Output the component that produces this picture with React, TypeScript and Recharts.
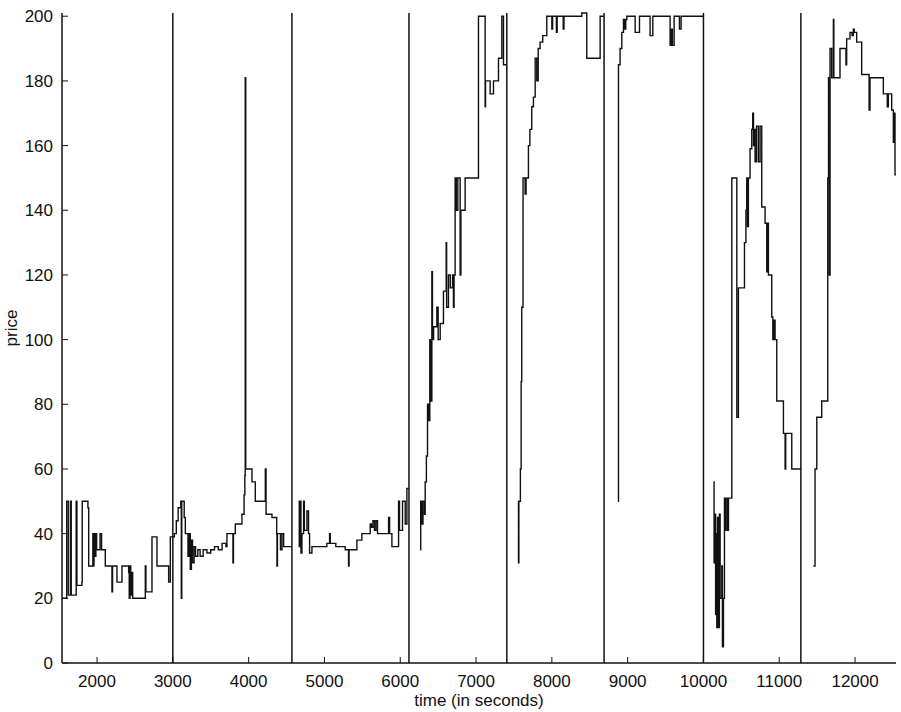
import React from 'react';
import { LineChart, Line, XAxis, YAxis, ReferenceLine } from 'recharts';

// price traces, one list per market period, [time in s, price]
const period1: [number, number][] = [
  [1538, 20], [1600, 50], [1622, 21], [1650, 50], [1660, 21], [1725, 50], [1735, 24],
  [1800, 25], [1805, 50], [1880, 48], [1890, 30], [1945, 40], [1950, 30], [1960, 40],
  [1970, 33], [1985, 40], [1995, 35], [2040, 40], [2060, 35], [2109, 30], [2190, 30],
  [2197, 22], [2205, 30], [2263, 25], [2329, 30], [2417, 28], [2425, 20], [2435, 30],
  [2445, 21], [2455, 28], [2470, 20], [2637, 30], [2645, 22], [2725, 39], [2791, 30],
  [2945, 25], [2967, 39], [3000, 39],
];

const period2: [number, number][] = [
  [3000, 39], [3020, 40], [3046, 44], [3070, 48], [3105, 50], [3112, 20], [3118, 50],
  [3150, 45], [3165, 40], [3200, 33], [3215, 40], [3230, 29], [3245, 38], [3260, 31],
  [3280, 36], [3300, 33], [3330, 35], [3360, 33], [3400, 35], [3450, 34], [3500, 35],
  [3550, 36], [3600, 35], [3650, 37], [3700, 36], [3714, 40], [3790, 40], [3793, 31],
  [3800, 40], [3824, 43], [3912, 46], [3940, 52], [3950, 58], [3955, 181], [3962, 60],
  [4044, 56], [4088, 50], [4215, 50], [4220, 60], [4230, 46], [4308, 45], [4370, 40],
  [4374, 30], [4380, 40], [4420, 35], [4440, 40], [4462, 36], [4571, 36],
];

const period3: [number, number][] = [
  [4659, 50], [4668, 36], [4680, 50], [4690, 34], [4703, 40], [4725, 50], [4735, 41],
  [4769, 47], [4790, 40], [4804, 34], [4835, 36], [4950, 36], [5032, 37], [5068, 40],
  [5077, 37], [5150, 36], [5274, 35], [5318, 30], [5325, 35], [5428, 38], [5494, 40],
  [5604, 43], [5620, 42], [5640, 44], [5660, 41], [5680, 44], [5700, 40], [5846, 45],
  [5860, 40], [5890, 36], [5978, 50], [5990, 41], [6030, 50], [6066, 43], [6088, 54],
  [6115, 54],
];

const period4: [number, number][] = [
  [6263, 35], [6270, 50], [6285, 43], [6300, 50], [6320, 46], [6329, 56], [6345, 64],
  [6360, 80], [6373, 75], [6390, 100], [6400, 81], [6417, 121], [6425, 100], [6440, 104],
  [6483, 110], [6500, 100], [6527, 105], [6570, 115], [6606, 130], [6612, 110], [6636, 120],
  [6660, 116], [6690, 120], [6702, 110], [6710, 120], [6724, 150], [6740, 140], [6760, 150],
  [6790, 120], [6800, 140], [6856, 150], [7032, 200], [7120, 172], [7125, 180], [7186, 176],
  [7230, 180], [7296, 187], [7340, 200], [7362, 185], [7406, 185],
];

const period5: [number, number][] = [
  [7555, 50], [7560, 31], [7565, 50], [7585, 60], [7595, 87], [7603, 110], [7620, 150],
  [7647, 145], [7660, 150], [7691, 160], [7710, 165], [7735, 172], [7757, 175], [7780, 187],
  [7801, 180], [7820, 190], [7845, 192], [7880, 194], [7933, 200], [8000, 196], [8010, 200],
  [8060, 195], [8070, 200], [8150, 196], [8160, 200], [8395, 201], [8461, 187], [8637, 200],
  [8689, 200],
];

const period6: [number, number][] = [
  [8870, 50], [8879, 185], [8900, 190], [8923, 195], [8945, 199], [8960, 196], [8975, 199],
  [8989, 200], [9099, 195], [9156, 200], [9296, 194], [9332, 200], [9560, 191], [9575, 196],
  [9590, 191], [9613, 200], [9683, 196], [9705, 200], [10000, 200],
];

const period7: [number, number][] = [
  [10132, 56], [10140, 31], [10154, 46], [10160, 15], [10170, 40], [10176, 11], [10185, 45],
  [10198, 11], [10210, 46], [10220, 20], [10242, 30], [10250, 5], [10264, 20], [10277, 51],
  [10290, 41], [10300, 51], [10320, 41], [10330, 51], [10374, 150], [10440, 76], [10461, 116],
  [10541, 130], [10560, 140], [10571, 150], [10580, 135], [10593, 150], [10615, 159],
  [10637, 165], [10650, 170], [10660, 160], [10670, 165], [10681, 155], [10700, 166],
  [10725, 155], [10747, 166], [10769, 141], [10813, 136], [10835, 121], [10845, 136],
  [10857, 120], [10901, 107], [10915, 100], [10930, 106], [10945, 100], [10967, 81],
  [11055, 71], [11077, 60], [11085, 71], [11165, 60], [11288, 60],
];

const period8: [number, number][] = [
  [11450, 30], [11472, 60], [11495, 76], [11560, 81], [11640, 150], [11650, 181], [11660, 120],
  [11670, 190], [11692, 181], [11714, 199], [11720, 181], [11801, 190], [11880, 185],
  [11889, 193], [11933, 195], [11960, 194], [11977, 196], [11990, 195], [12021, 192],
  [12087, 182], [12175, 182], [12185, 171], [12197, 181], [12373, 176], [12425, 172],
  [12439, 176], [12483, 171], [12505, 161], [12515, 170], [12527, 151], [12540, 151],
];

const periods = [period1, period2, period3, period4, period5, period6, period7, period8];
const periodStarts = [3000, 4571, 6115, 7406, 8689, 10000, 11285];

const xTicks = [2000, 3000, 4000, 5000, 6000, 7000, 8000, 9000, 10000, 11000, 12000];
const yTicks = [0, 20, 40, 60, 80, 100, 120, 140, 160, 180, 200];

// join periods, with a null row between them so the trace breaks
const data: { t: number; p: number | null }[] = [];
periods.forEach((seg, i) => {
  if (i > 0) data.push({ t: seg[0][0], p: null });
  seg.forEach(([t, p]) => data.push({ t, p }));
});

const font = '"Liberation Sans", Arial, Helvetica, sans-serif';
const ink = '#111';
const fs = 17;

const XTick = (props: any) => {
  const { x, y, payload } = props;
  const axisY = y - 12;
  return (
    <g>
      <line x1={x} x2={x} y1={axisY} y2={axisY - 6} stroke={ink} strokeWidth={1} />
      <text x={x} y={y} dy="0.71em" textAnchor="middle" fontFamily={font} fontSize={fs} fill={ink}>
        {payload.value}
      </text>
    </g>
  );
};

const YTick = (props: any) => {
  const { x, y, payload } = props;
  const axisX = x + 9;
  return (
    <g>
      <line x1={axisX} x2={axisX + 6} y1={y} y2={y} stroke={ink} strokeWidth={1} />
      <text x={x} y={y} dy="0.36em" textAnchor="end" fontFamily={font} fontSize={fs} fill={ink}>
        {payload.value}
      </text>
    </g>
  );
};

const PriceLabel = (props: any) => {
  const { viewBox } = props;
  const cx = 17;
  const cy = viewBox.y + viewBox.height / 2 - 10;
  return (
    <text
      x={cx}
      y={cy}
      transform={`rotate(-90 ${cx} ${cy})`}
      textAnchor="middle"
      fontFamily={font}
      fontSize={fs}
      fill={ink}
    >
      price
    </text>
  );
};

export default function App() {
  return (
    <div style={{ position: 'absolute', left: 0, top: 0, background: '#fff' }}>
      <LineChart width={901} height={712} data={data} margin={{ top: 13, right: 5, bottom: 0, left: 0 }}>
        <XAxis
          dataKey="t"
          type="number"
          domain={[1538, 12540]}
          ticks={xTicks}
          allowDataOverflow
          height={49}
          tickSize={0}
          tickMargin={12}
          tickLine={false}
          tick={<XTick />}
          axisLine={{ stroke: ink, strokeWidth: 1.5 }}
          label={{ value: 'time (in seconds)', position: 'insideBottom', offset: 6, fontFamily: font, fontSize: fs, fill: ink }}
        />
        <YAxis
          type="number"
          domain={[0, 200]}
          ticks={yTicks}
          width={62}
          tickSize={0}
          tickMargin={9}
          tickLine={false}
          tick={<YTick />}
          axisLine={{ stroke: ink, strokeWidth: 1.5 }}
          label={<PriceLabel />}
        />
        {periodStarts.map((t) => (
          <ReferenceLine key={t} x={t} stroke={ink} strokeWidth={1.5} />
        ))}
        <Line
          type="stepAfter"
          dataKey="p"
          stroke={ink}
          strokeWidth={1.4}
          dot={false}
          activeDot={false}
          connectNulls={false}
          isAnimationActive={false}
        />
      </LineChart>
    </div>
  );
}
